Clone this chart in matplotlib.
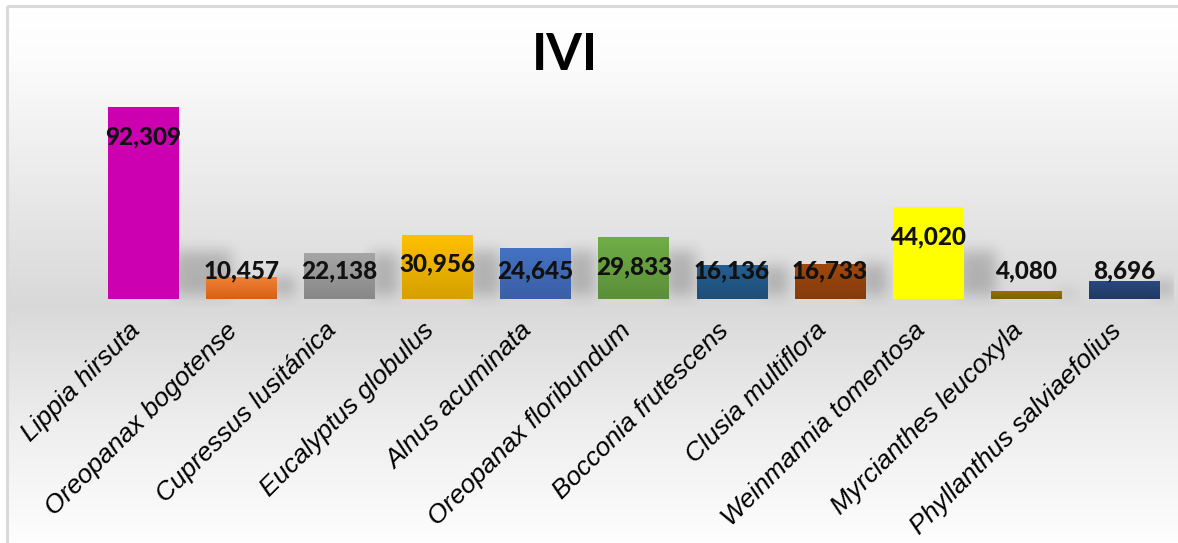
import numpy as np
import matplotlib.pyplot as plt
from matplotlib.colors import LinearSegmentedColormap
from matplotlib.transforms import ScaledTranslation

# IVI per species (decimal comma in the labels)
species = ["Lippia hirsuta", "Oreopanax bogotense", "Cupressus lusitánica",
           "Eucalyptus globulus", "Alnus acuminata", "Oreopanax floribundum",
           "Bocconia frutescens", "Clusia multiflora", "Weinmannia tomentosa",
           "Myrcianthes leucoxyla", "Phyllanthus salviaefolius"]
ivi = [92.309, 10.457, 22.138, 30.956, 24.645, 29.833, 16.136, 16.733, 44.020, 4.080, 8.696]
ivi_labels = ["92,309", "10,457", "22,138", "30,956", "24,645", "29,833",
              "16,136", "16,733", "44,020", "4,080", "8,696"]

# gradient colours for each bar (top, bottom)
top_colors = ["#cc00b0", "#ef8236", "#a6a6a6", "#ffc000", "#4472c4", "#70ad47",
              "#255e91", "#9e480e", "#ffff00", "#997300", "#2a4a80"]
bottom_colors = ["#cc00b0", "#d95f16", "#888888", "#d6a000", "#3a5fa6", "#5b8f39",
                 "#1f4e79", "#843c0c", "#ffff00", "#7f6000", "#1f3864"]

W, H = 1178, 543
fig = plt.figure(figsize=(W / 100, H / 100), dpi=100)

# chart area background: white -> light grey near the baseline -> white
bg = fig.add_axes([0, 0, 1, 1], zorder=0)
bg.set_xlim(0, W)
bg.set_ylim(H, 0)
bg.axis("off")
rows = np.arange(H)
frac = (rows - 6) / (H - 6)
grey = np.interp(frac, [0, 0.08, 0.55, 0.8, 1.0], [1.0, 0.99, 0.85, 0.94, 0.995])
grad = np.repeat(grey[:, None], 2, axis=1)
bg.imshow(np.dstack([grad] * 3), extent=[7, W, H, 6], aspect="auto", interpolation="bilinear")
bg.plot([7, 7], [6, H], color="#d9d9d9", lw=2.2, solid_capstyle="butt")
bg.plot([7, W], [6, 6], color="#d9d9d9", lw=2.2, solid_capstyle="butt")

# plot area
px_x = 98.15   # pixels per category
px_y = 2.08    # pixels per IVI unit
left, base = 93.9, 299
ax = fig.add_axes([left / W, (H - base) / H, 11 * px_x / W, 100 * px_y / H], zorder=1)
ax.set_facecolor("none")
x = np.arange(len(species))
bw = 0.72

# soft shadows to the right of each bar
ys = np.linspace(-8, 100, int(108 * px_y))
xs = np.linspace(-0.5, 10.5, int(11 * px_x))
mask = np.zeros((len(ys), len(xs)))
for xi, v in zip(x, ivi):
    h_px = v * px_y
    sw = (14 + 0.2 * h_px) / px_x
    y1 = min(v, 48 / px_y)
    xr = xi + bw / 2
    rsel = (ys >= 2) & (ys <= y1)
    csel = (xs >= xr - 0.05) & (xs <= xr + sw)
    mask[np.ix_(rsel, csel)] = 1.0

def blur(a, s):
    r = int(3 * s)
    k = np.exp(-0.5 * (np.arange(-r, r + 1) / s) ** 2)
    k /= k.sum()
    a = np.apply_along_axis(lambda m: np.convolve(m, k, mode="same"), 0, a)
    a = np.apply_along_axis(lambda m: np.convolve(m, k, mode="same"), 1, a)
    return a

alpha = blur(mask, 7) * 0.2
shadow = np.zeros((len(ys), len(xs), 4))
shadow[..., 3] = alpha
ax.imshow(shadow, extent=[-0.5, 10.5, -8, 100], origin="lower", aspect="auto",
          zorder=1, clip_on=False)

bars = ax.bar(x, ivi, width=bw, color=top_colors, zorder=2)
for b, c_top, c_bot in zip(bars, top_colors, bottom_colors):
    cmap = LinearSegmentedColormap.from_list("bar", [c_bot, c_top])
    g = np.linspace(0, 1, 64)[:, None]
    im = ax.imshow(g, cmap=cmap, origin="lower", aspect="auto", zorder=2.1,
                   extent=[b.get_x(), b.get_x() + b.get_width(), 0, b.get_height()])
    im.set_clip_path(b)

for xi, v, lab in zip(x, ivi, ivi_labels):
    ax.text(xi, max(v - 14.2, 13.6), lab, ha="center", va="center", fontsize=17.5,
            fontweight="black", family="Lato", color="#111111", zorder=3)

ax.set_xlim(-0.5, 10.5)
ax.set_ylim(0, 100)
ax.set_yticks([])
ax.set_xticks(x)
ax.set_xticklabels(species, rotation=45, ha="right", va="center", rotation_mode="anchor",
                   fontsize=19, fontstyle="italic", family="Liberation Sans")
ax.tick_params(axis="x", length=0, pad=20)
shift = ScaledTranslation(-5 / 72, 0, fig.dpi_scale_trans)
for t in ax.get_xticklabels():
    t.set_transform(t.get_transform() + shift)
for s in ax.spines.values():
    s.set_visible(False)

fig.text(565 / W, 1 - 55 / H, "IVI", ha="center", va="center", fontsize=37,
         fontweight="bold", family="Lato", color="black")

fig.savefig("out.png", dpi=100)
